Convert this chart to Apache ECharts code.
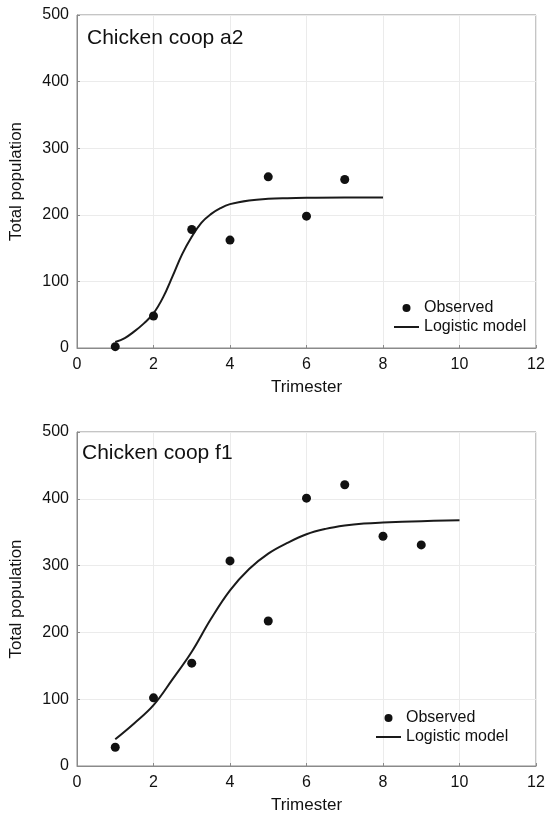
<!DOCTYPE html>
<html>
<head>
<meta charset="utf-8">
<script src="https://cdn.jsdelivr.net/npm/echarts@6/dist/echarts.min.js"></script>
<style>
html,body{margin:0;padding:0;background:#fff;}
#chart{width:548px;height:819px;}
</style>
</head>
<body>
<div id="chart"></div>
<script>
// ---- Data ----
var xTicks = [0, 2, 4, 6, 8, 10, 12];
var yTicks = [0, 100, 200, 300, 400, 500];

var titleA = "Chicken coop a2";
var obsAx = [1, 2, 3, 4, 5, 6, 7];
var obsAy = [2, 48, 178, 162, 257, 198, 253];
var modelAx = [1, 1.25, 1.5, 1.75, 2, 2.25, 2.5, 2.75, 3, 3.25, 3.5, 3.75, 4, 4.5, 5, 5.5, 6, 7, 8];
var modelAy = [9, 15, 25, 37, 52, 76, 108, 141, 167, 188, 201, 210, 216, 221.5, 224, 225, 225.5, 226, 226];

var titleB = "Chicken coop f1";
var obsBx = [1, 2, 3, 4, 5, 6, 7, 8, 9];
var obsBy = [28, 102, 154, 307, 217, 401, 421, 344, 331];
var modelBx = [1, 1.5, 2, 2.5, 3, 3.5, 4, 4.5, 5, 5.5, 6, 6.5, 7, 7.5, 8, 9, 10];
var modelBy = [40, 64, 91, 130, 171, 220, 263, 295, 318, 334, 347, 355, 360, 363, 364.5, 366.5, 368];

var seriesNames = ["Observed", "Logistic model"];
var xName = "Trimester";
var yName = "Total population";

// ---- Build options ----
function pairs(xs, ys) { return xs.map(function (x, i) { return [x, ys[i]]; }); }

var FONT = "'Liberation Sans', Arial, Helvetica, sans-serif";
var TXT = "#111";
var FRAME = "#8a8a8a";
var LINE_ICON = 'path://M0,0 L25,0 L25,2 L0,2 Z';

function xAxisCfg(gi) {
  return {
    gridIndex: gi, type: 'value', min: xTicks[0], max: xTicks[xTicks.length - 1], interval: xTicks[1] - xTicks[0],
    name: xName, nameLocation: 'middle', nameGap: 31,
    nameTextStyle: { fontFamily: FONT, fontSize: 17, color: TXT },
    axisLine: { show: true, lineStyle: { color: FRAME, width: 1 } },
    axisTick: { show: true, inside: true, length: 3, lineStyle: { color: FRAME } },
    axisLabel: { fontFamily: FONT, fontSize: 16, color: TXT, margin: 9 },
    splitLine: { show: true, lineStyle: { color: '#ebebeb', width: 1 } }
  };
}
function yAxisCfg(gi) {
  return {
    gridIndex: gi, type: 'value', min: yTicks[0], max: yTicks[yTicks.length - 1], interval: yTicks[1] - yTicks[0],
    name: yName, nameLocation: 'middle', nameGap: 52, nameRotate: 90,
    nameTextStyle: { fontFamily: FONT, fontSize: 17, color: TXT },
    axisLine: { show: true, lineStyle: { color: FRAME, width: 1 } },
    axisTick: { show: true, inside: true, length: 3, lineStyle: { color: FRAME } },
    axisLabel: { fontFamily: FONT, fontSize: 16, color: TXT, margin: 8 },
    splitLine: { show: true, lineStyle: { color: '#ebebeb', width: 1 } }
  };
}

var option = {
  animation: false,
  backgroundColor: '#fff',
  title: [
    { text: titleA, left: 87, top: 26, padding: 0, textStyle: { fontFamily: FONT, fontSize: 21, fontWeight: 'normal', color: TXT, lineHeight: 24 } },
    { text: titleB, left: 82, top: 441, padding: 0, textStyle: { fontFamily: FONT, fontSize: 21, fontWeight: 'normal', color: TXT, lineHeight: 24 } }
  ],
  grid: [
    { left: 76, right: 12, top: 15, height: 333, show: true, borderColor: FRAME, borderWidth: 1, backgroundColor: 'transparent' },
    { left: 76, right: 12, top: 432, height: 334, show: true, borderColor: FRAME, borderWidth: 1, backgroundColor: 'transparent' }
  ],
  xAxis: [xAxisCfg(0), xAxisCfg(1)],
  yAxis: [yAxisCfg(0), yAxisCfg(1)],
  legend: [
    {
      left: 394, top: 300, padding: 0, orient: 'vertical', itemWidth: 25, itemHeight: 8, itemGap: 3,
      textStyle: { fontFamily: FONT, fontSize: 16, color: TXT, lineHeight: 16 },
      data: [{ name: seriesNames[0], icon: 'circle' }, { name: seriesNames[1], icon: LINE_ICON }]
    },
    {
      left: 376, top: 710, padding: 0, orient: 'vertical', itemWidth: 25, itemHeight: 8, itemGap: 3,
      textStyle: { fontFamily: FONT, fontSize: 16, color: TXT, lineHeight: 16 },
      data: [{ name: seriesNames[0] + ' ', icon: 'circle' }, { name: seriesNames[1] + ' ', icon: LINE_ICON }]
    }
  ],
  series: [
    {
      name: seriesNames[1], type: 'line', xAxisIndex: 0, yAxisIndex: 0, data: pairs(modelAx, modelAy),
      smooth: 0.4, showSymbol: false, symbol: 'none', lineStyle: { color: '#1a1a1a', width: 2 }, itemStyle: { color: '#1a1a1a' }, z: 2
    },
    {
      name: seriesNames[0], type: 'scatter', xAxisIndex: 0, yAxisIndex: 0, data: pairs(obsAx, obsAy),
      symbol: 'circle', symbolSize: 9, itemStyle: { color: '#111', opacity: 1 }, z: 3
    },
    {
      name: seriesNames[1] + ' ', type: 'line', xAxisIndex: 1, yAxisIndex: 1, data: pairs(modelBx, modelBy),
      smooth: 0.4, showSymbol: false, symbol: 'none', lineStyle: { color: '#1a1a1a', width: 2 }, itemStyle: { color: '#1a1a1a' }, z: 2
    },
    {
      name: seriesNames[0] + ' ', type: 'scatter', xAxisIndex: 1, yAxisIndex: 1, data: pairs(obsBx, obsBy),
      symbol: 'circle', symbolSize: 9, itemStyle: { color: '#111', opacity: 1 }, z: 3
    }
  ]
};

var chart = echarts.init(document.getElementById('chart'), null, { renderer: 'canvas' });
chart.setOption(option);
</script>
</body>
</html>
